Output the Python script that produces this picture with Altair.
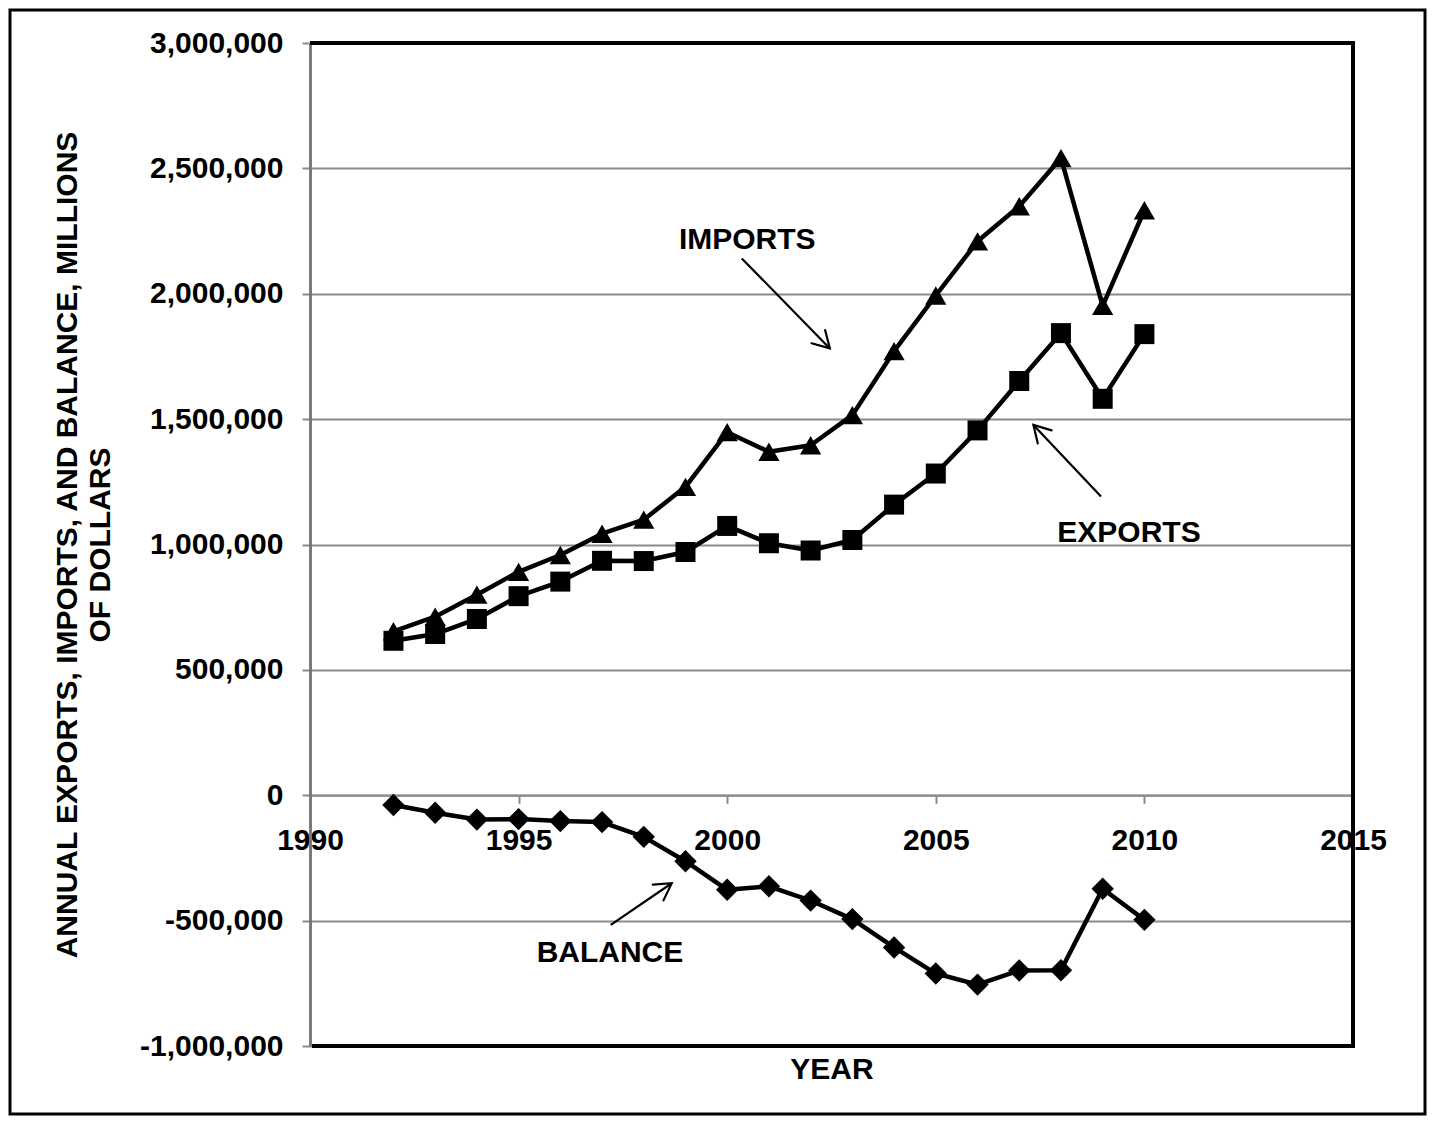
import math
import altair as alt
import pandas as pd

# ---------------- data (millions of dollars) ----------------
years = list(range(1992, 2011))
exports = [616000, 643000, 703000, 794000, 852000, 935000, 934000, 970000, 1074000,
           1005000, 976000, 1018000, 1159000, 1283000, 1455000, 1652000, 1843000,
           1581000, 1839000]
imports = [654000, 712000, 800000, 891000, 958000, 1043000, 1099000, 1230000, 1448000,
           1370000, 1396000, 1516000, 1771000, 1993000, 2209000, 2349000, 2541000,
           1952000, 2333000]
balance = [-39000, -70000, -97000, -95000, -103000, -107000, -166000, -263000, -377000,
           -363000, -420000, -494000, -607000, -711000, -755000, -699000, -698000,
           -373000, -497000]

series_names = ["EXPORTS", "IMPORTS", "BALANCE"]
series_shapes = ["square", "triangle-up", "diamond"]
series_sizes = [400, 500, 400]

y_ticks = [-1000000, -500000, 0, 500000, 1000000, 1500000, 2000000, 2500000, 3000000]
x_ticks = [1990, 1995, 2000, 2005, 2010, 2015]
y_title = ["ANNUAL EXPORTS, IMPORTS, AND BALANCE, MILLIONS", "OF DOLLARS"]

# annotations (data units)
ann_text = ["IMPORTS", "EXPORTS", "BALANCE"]
ann_x = [2000.48, 2009.63, 1997.19]
ann_y = [2214000, 1046000, -629000]
arr_x1 = [2000.35, 2008.96, 1997.21]
arr_y1 = [2141000, 1191000, -517000]
arr_x2 = [2002.46, 2007.34, 1998.67]
arr_y2 = [1782000, 1477000, -351000]

# ---------------- layout ----------------
W, H = 1043, 1003
XMIN, XMAX = 1990, 2015
YMIN, YMAX = -1000000, 3000000
FONT = "Liberation Sans"
GRAY = "#8a8a8a"

rows = []
for name, vals in zip(series_names, [exports, imports, balance]):
    for yr, v in zip(years, vals):
        rows.append({"year": yr, "value": v, "series": name})
df = pd.DataFrame(rows)

px_per_year = W / (XMAX - XMIN)
px_per_unit = H / (YMAX - YMIN)
arrows = []
for x1, y1, x2, y2 in zip(arr_x1, arr_y1, arr_x2, arr_y2):
    dx = (x2 - x1) * px_per_year
    dy = -(y2 - y1) * px_per_unit
    ang = math.degrees(math.atan2(dx, -dy)) % 360
    arrows.append({"x1": x1, "y1": y1, "x2": x2, "y2": y2, "angle": ang})
arr_df = pd.DataFrame(arrows)
ann_df = pd.DataFrame({"text": ann_text, "x": ann_x, "y": ann_y})

axis_y = H * (YMAX - 0) / (YMAX - YMIN)

xscale = alt.Scale(domain=[XMIN, XMAX], nice=False, zero=False)
yscale = alt.Scale(domain=[YMIN, YMAX], nice=False)

xaxis = alt.Axis(values=x_ticks, format="d", title="YEAR", grid=False,
                 offset=-(H - axis_y),
                 domainColor=GRAY, domainWidth=2, tickColor=GRAY, tickWidth=2, tickSize=8,
                 labelFont=FONT, labelFontSize=30, labelFontWeight="bold", labelColor="black",
                 labelPadding=22, labelFlush=False,
                 titleFont=FONT, titleFontSize=30, titleFontWeight="bold", titleColor="black",
                 titleY=(H + 32) - axis_y, titleBaseline="alphabetic")

yaxis = alt.Axis(values=y_ticks, title=y_title, grid=True,
                 labelExpr="(datum.value < 0 ? '-' : '') + format(abs(datum.value), ',.0f')",
                 gridColor=GRAY, gridWidth=2,
                 domainColor="#7a7a7a", domainWidth=3, tickColor=GRAY, tickWidth=2, tickSize=8,
                 labelFont=FONT, labelFontSize=30, labelFontWeight="bold", labelColor="black",
                 labelPadding=19, labelFlush=False,
                 titleFont=FONT, titleFontSize=30, titleFontWeight="bold", titleColor="black",
                 titleX=-243, titleY=H / 2, titleAngle=270, titleAlign="center",
                 titleBaseline="middle", titleLineHeight=33)

one = alt.Data(values=[{"k": 0}])

frame = alt.Chart(one).mark_rect(fill="transparent", stroke="black", strokeWidth=3).encode(
    x=alt.value(-300), x2=alt.value(W + 72), y=alt.value(-33), y2=alt.value(H + 68))

top_rule = alt.Chart(one).mark_rule(color="black", strokeWidth=4).encode(
    x=alt.value(0), x2=alt.value(W + 2), y=alt.value(0))
right_rule = alt.Chart(one).mark_rule(color="black", strokeWidth=4).encode(
    x=alt.value(W), y=alt.value(-2), y2=alt.value(H + 2))
bottom_rule = alt.Chart(one).mark_rule(color="black", strokeWidth=4).encode(
    x=alt.value(2), x2=alt.value(W + 2), y=alt.value(H))

lines = alt.Chart(df).mark_line(color="black", strokeWidth=4.5, strokeJoin="round").encode(
    x=alt.X("year:Q", scale=xscale, axis=xaxis),
    y=alt.Y("value:Q", scale=yscale, axis=yaxis),
    detail="series:N",
)

points = alt.Chart(df).mark_point(filled=True, color="black", opacity=1).encode(
    x=alt.X("year:Q", scale=xscale),
    y=alt.Y("value:Q", scale=yscale),
    shape=alt.Shape("series:N", scale=alt.Scale(domain=series_names, range=series_shapes), legend=None),
    size=alt.Size("series:N", scale=alt.Scale(domain=series_names, range=series_sizes), legend=None),
)

arrow_lines = alt.Chart(arr_df).mark_rule(color="black", strokeWidth=2.2).encode(
    x=alt.X("x1:Q", scale=xscale), x2="x2:Q",
    y=alt.Y("y1:Q", scale=yscale), y2="y2:Q",
)

arrow_heads = alt.Chart(arr_df).mark_point(
    shape="M-0.5,0.866L0,0L0.5,0.866", filled=False, color="black",
    strokeWidth=2.2, opacity=1, size=1444, strokeCap="round", strokeJoin="miter"
).encode(
    x=alt.X("x2:Q", scale=xscale),
    y=alt.Y("y2:Q", scale=yscale),
    angle=alt.Angle("angle:Q", scale=None),
)

labels = alt.Chart(ann_df).mark_text(font=FONT, fontSize=30, fontWeight="bold", color="black",
                                     align="center", baseline="middle").encode(
    x=alt.X("x:Q", scale=xscale),
    y=alt.Y("y:Q", scale=yscale),
    text="text:N",
)

chart = alt.layer(frame, lines, points, arrow_lines, arrow_heads, labels,
                  top_rule, right_rule, bottom_rule).properties(
    width=W, height=H,
    padding={"left": 302, "top": 35, "right": 74, "bottom": 70},
    autosize=alt.AutoSizeParams(type="none"),
    background="white",
).configure_view(stroke=None)

chart.save("out.html", embed_options={"renderer": "svg", "actions": False})
